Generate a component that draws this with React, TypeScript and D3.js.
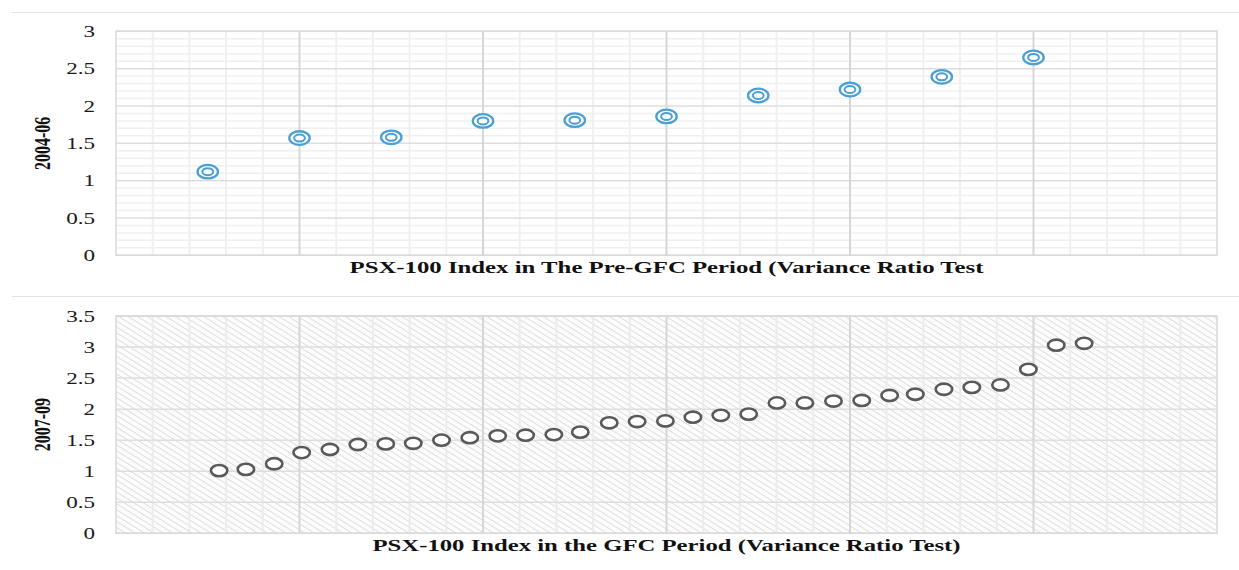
import React from "react";
import { scaleLinear, range } from "d3";

// top panel: pre-GFC (2004-06)
const preX = [2.5, 5, 7.5, 10, 12.5, 15, 17.5, 20, 22.5, 25];
const preVR = [1.12, 1.57, 1.58, 1.8, 1.81, 1.86, 2.14, 2.22, 2.39, 2.65];

// bottom panel: GFC (2007-09)
const gfcX = [
  2.81, 3.54, 4.31, 5.06, 5.83, 6.59, 7.35, 8.1, 8.87, 9.64, 10.4, 11.16, 11.93,
  12.65, 13.44, 14.2, 14.97, 15.72, 16.48, 17.24, 18.01, 18.77, 19.55, 20.32,
  21.08, 21.78, 22.56, 23.32, 24.1, 24.86, 25.62, 26.38,
];
const gfcVR = [
  1.01, 1.03, 1.12, 1.3, 1.35, 1.43, 1.44, 1.45, 1.5, 1.54, 1.57, 1.58, 1.59,
  1.63, 1.78, 1.8, 1.81, 1.87, 1.9, 1.92, 2.1, 2.1, 2.13, 2.14, 2.22, 2.24, 2.32,
  2.35, 2.39, 2.64, 3.03, 3.06,
];

const preTicks = [0, 0.5, 1, 1.5, 2, 2.5, 3];
const gfcTicks = [0, 0.5, 1, 1.5, 2, 2.5, 3, 3.5];

const W = 1239;
const H = 570;
const LEFT = 116;
const RIGHT = 1217;
const FONT = "'Liberation Serif', 'Times New Roman', serif";

const x = scaleLinear().domain([0, 30]).range([LEFT, RIGHT]);

type PanelProps = {
  top: number;
  bottom: number;
  ymax: number;
  ticks: number[];
  minorY: number[];
  label: string;
  title: string;
  titleLen: number;
  hatch?: boolean;
  children: (y: (v: number) => number) => React.ReactNode;
};

const Panel = ({ top, bottom, ymax, ticks, minorY, label, title, titleLen, hatch, children }: PanelProps) => {
  const y = scaleLinear().domain([0, ymax]).range([bottom, top]);
  const minorX = range(1, 30).filter((d) => d % 5 !== 0);
  const majorX = [5, 10, 15, 20, 25];
  return (
    <g>
      <rect
        x={LEFT}
        y={top}
        width={RIGHT - LEFT}
        height={bottom - top}
        fill={hatch ? "url(#hatch)" : "#fff"}
      />
      {/* minor grid */}
      {minorY.map((v, i) => (
        <line key={"my" + i} x1={LEFT} x2={RIGHT} y1={y(v)} y2={y(v)} stroke="#f0f0f0" strokeWidth={1.5} />
      ))}
      {minorX.map((v) => (
        <line key={"mx" + v} x1={x(v)} x2={x(v)} y1={top} y2={bottom} stroke={hatch ? "#ececec" : "#f0f0f0"} strokeWidth={2} />
      ))}
      {/* major grid */}
      {ticks.map((v) => (
        <line key={"ty" + v} x1={LEFT} x2={RIGHT} y1={y(v)} y2={y(v)} stroke="#dedede" strokeWidth={1.5} />
      ))}
      {majorX.map((v) => (
        <line key={"tx" + v} x1={x(v)} x2={x(v)} y1={top} y2={bottom} stroke="#d6d6d6" strokeWidth={2} />
      ))}
      <rect x={LEFT} y={top} width={RIGHT - LEFT} height={bottom - top} fill="none" stroke="#d9d9d9" strokeWidth={1.5} />

      {/* y tick labels */}
      {ticks.map((v) => (
        <text
          key={"l" + v}
          transform={`translate(95,${y(v)}) scale(1.4,1)`}
          dy="0.35em"
          textAnchor="end"
          fontSize={16.5}
          fontFamily={FONT}
          fill="#1a1a1a"
        >
          {v}
        </text>
      ))}

      {/* axis label */}
      <text
        transform={`translate(50,${(top + bottom) / 2}) scale(1.4,1) rotate(-90)`}
        textAnchor="middle"
        fontSize={16}
        fontWeight="bold"
        fontFamily={FONT}
        fill="#111"
      >
        {label}
      </text>

      {/* title under plot */}
      <text
        x={(LEFT + RIGHT) / 2}
        y={bottom + 18}
        textAnchor="middle"
        fontSize={17}
        fontWeight="bold"
        fontFamily={FONT}
        textLength={titleLen}
        lengthAdjust="spacingAndGlyphs"
        fill="#111"
      >
        {title}
      </text>

      {children(y)}
    </g>
  );
};

export default function App() {
  return (
    <svg
      width={W}
      height={H}
      style={{ position: "absolute", left: 0, top: 0, display: "block", background: "#fff" }}
    >
      <defs>
        <pattern id="hatch" width={5} height={5} patternUnits="userSpaceOnUse" patternTransform="rotate(32)">
          <rect width={5} height={5} fill="#fcfcfc" />
          <line x1={0} y1={0} x2={5} y2={0} stroke="#d4d4d4" strokeWidth={1.5} />
        </pattern>
      </defs>

      {/* separators */}
      <line x1={12} x2={W} y1={12.5} y2={12.5} stroke="#e3e3e3" strokeWidth={1} />
      <line x1={12} x2={W} y1={296.5} y2={296.5} stroke="#e3e3e3" strokeWidth={1} />

      <Panel
        top={31.3}
        bottom={255.3}
        ymax={3}
        ticks={preTicks}
        minorY={range(0, 31).map((d) => d / 10).filter((d) => Math.round(d * 10) % 5 !== 0)}
        label="2004-06"
        title="PSX-100 Index in The Pre-GFC Period (Variance Ratio Test"
        titleLen={634}
      >
        {(y) =>
          preVR.map((v, i) => (
            <g key={i} transform={`translate(${x(preX[i])},${y(v)})`}>
              <ellipse rx={10.2} ry={6.8} fill="#fff" stroke="#4a9fd4" strokeWidth={2.3} />
              <ellipse rx={5.4} ry={3.5} fill="#fff" stroke="#4a9fd4" strokeWidth={2} />
            </g>
          ))
        }
      </Panel>

      <Panel
        top={316}
        bottom={533.3}
        ymax={3.5}
        ticks={gfcTicks}
        minorY={[]}
        label="2007-09"
        title="PSX-100 Index in the GFC Period (Variance Ratio Test)"
        titleLen={588}
        hatch
      >
        {(y) =>
          gfcVR.map((v, i) => (
            <ellipse
              key={i}
              cx={x(gfcX[i])}
              cy={y(v)}
              rx={8.2}
              ry={5.6}
              fill="#fff"
              stroke="#595959"
              strokeWidth={2.6}
            />
          ))
        }
      </Panel>
    </svg>
  );
}
